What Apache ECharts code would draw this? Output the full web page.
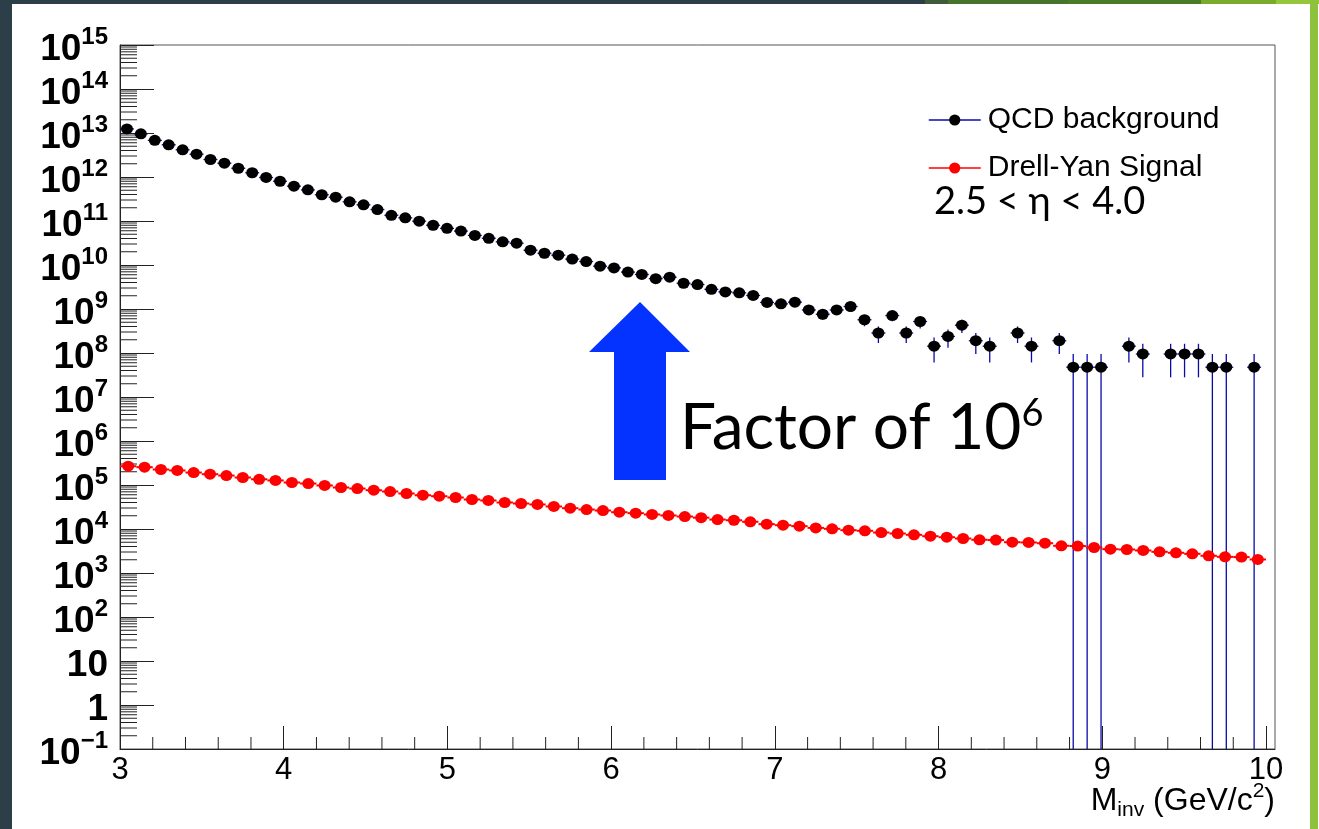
<!DOCTYPE html>
<html>
<head>
<meta charset="utf-8">
<script src="https://cdn.jsdelivr.net/npm/echarts@6/dist/echarts.min.js"></script>
<style>
  html, body { margin: 0; padding: 0; background: #fff; }
  #container { width: 1319px; height: 829px; }
</style>
</head>
<body>
<div id="container"></div>
<script>
// QCD background histogram (bin centres, contents, errors); null = empty bin
var qcdMass = [
  3.0425, 3.1275, 3.2125, 3.2975, 3.3825, 3.4675, 3.5525, 3.6375, 3.7225, 3.8075,
  3.8925, 3.9775, 4.0625, 4.1475, 4.2325, 4.3175, 4.4025, 4.4875, 4.5725, 4.6575,
  4.7425, 4.8275, 4.9125, 4.9975, 5.0825, 5.1675, 5.2525, 5.3375, 5.4225, 5.5075,
  5.5925, 5.6775, 5.7625, 5.8475, 5.9325, 6.0175, 6.1025, 6.1875, 6.2725, 6.3575,
  6.4425, 6.5275, 6.6125, 6.6975, 6.7825, 6.8675, 6.9525, 7.0375, 7.1225, 7.2075,
  7.2925, 7.3775, 7.4625, 7.5475, 7.6325, 7.7175, 7.8025, 7.8875, 7.9725, 8.0575,
  8.1425, 8.2275, 8.3125, 8.3975, 8.4825, 8.5675, 8.6525, 8.7375, 8.8225, 8.9075,
  8.9925, 9.0775, 9.1625, 9.2475, 9.3325, 9.4175, 9.5025, 9.5875, 9.6725, 9.7575,
  9.8425, 9.9275
];
var qcdCounts = [
  1.24e13, 9.6e12, 6.8e12, 5.4e12, 4.15e12, 3.3e12, 2.5e12, 2.06e12, 1.58e12, 1.25e12,
  9.75e11, 8.0e11, 6.2e11, 5.1e11, 3.95e11, 3.47e11, 2.73e11, 2.33e11, 1.82e11, 1.35e11,
  1.18e11, 9.9e10, 8.0e10, 6.8e10, 5.9e10, 4.7e10, 4.05e10, 3.37e10, 3.13e10, 2.17e10,
  1.85e10, 1.67e10, 1.36e10, 1.2e10, 9.4e9, 8.6e9, 6.9e9, 6.1e9, 4.9e9, 5.3e9,
  3.85e9, 3.6e9, 2.8e9, 2.45e9, 2.33e9, 2.03e9, 1.41e9, 1.31e9, 1.43e9, 9.5e8,
  7.6e8, 9.5e8, 1.14e9, 5.7e8, 2.85e8, 7.1e8, 2.85e8, 5.2e8, 1.43e8, 2.38e8,
  4.28e8, 1.9e8, 1.43e8, null, 2.85e8, 1.43e8, null, 1.9e8, 4.75e7, 4.75e7,
  4.75e7, null, 1.43e8, 9.5e7, null, 9.5e7, 9.5e7, 9.5e7, 4.75e7, 4.75e7,
  null, 4.75e7
];
var qcdErrors = [
  0, 0, 0, 0, 0, 0, 0, 0, 0, 0,
  0, 0, 0, 0, 0, 0, 0, 0, 0, 0,
  0, 0, 0, 0, 0, 0, 0, 0, 0, 0,
  0, 0, 0, 0, 0, 0, 0, 0, 0, 0,
  4.3e8, 4.1e8, 3.65e8, 3.4e8, 3.3e8, 3.1e8, 2.6e8, 2.5e8, 2.6e8, 2.12e8,
  1.9e8, 2.12e8, 2.33e8, 1.65e8, 1.16e8, 1.84e8, 1.16e8, 1.58e8, 8.2e7, 1.06e8,
  1.43e8, 9.5e7, 8.2e7, null, 1.16e8, 8.2e7, null, 9.5e7, 4.75e7, 4.75e7,
  4.75e7, null, 8.2e7, 6.7e7, null, 6.7e7, 6.7e7, 6.7e7, 4.75e7, 4.75e7,
  null, 4.75e7
];
var qcdHalfWidth = 0.0425;

// Drell-Yan signal histogram
var dyMass = [
  3.05, 3.15, 3.25, 3.35, 3.45, 3.55, 3.65, 3.75, 3.85, 3.95,
  4.05, 4.15, 4.25, 4.35, 4.45, 4.55, 4.65, 4.75, 4.85, 4.95,
  5.05, 5.15, 5.25, 5.35, 5.45, 5.55, 5.65, 5.75, 5.85, 5.95,
  6.05, 6.15, 6.25, 6.35, 6.45, 6.55, 6.65, 6.75, 6.85, 6.95,
  7.05, 7.15, 7.25, 7.35, 7.45, 7.55, 7.65, 7.75, 7.85, 7.95,
  8.05, 8.15, 8.25, 8.35, 8.45, 8.55, 8.65, 8.75, 8.85, 8.95,
  9.05, 9.15, 9.25, 9.35, 9.45, 9.55, 9.65, 9.75, 9.85, 9.95
];
var dyCounts = [
  2.67e5, 2.54e5, 2.25e5, 2.14e5, 1.92e5, 1.76e5, 1.64e5, 1.48e5, 1.35e5, 1.27e5,
  1.14e5, 1.08e5, 9.75e4, 8.77e4, 8.32e4, 7.62e4, 7.11e4, 6.41e4, 5.86e4, 5.56e4,
  5.2e4, 4.68e4, 4.45e4, 4.0e4, 3.8e4, 3.61e4, 3.25e4, 2.97e4, 2.77e4, 2.63e4,
  2.41e4, 2.29e4, 2.14e4, 2.03e4, 1.92e4, 1.81e4, 1.64e4, 1.58e4, 1.46e4, 1.29e4,
  1.22e4, 1.16e4, 1.06e4, 1.01e4, 9.4e3, 9.1e3, 8.32e3, 7.9e3, 7.38e3, 6.86e3,
  6.51e3, 6.08e3, 5.69e3, 5.6e3, 5.01e3, 4.95e3, 4.75e3, 4.15e3, 4.1e3, 3.8e3,
  3.48e3, 3.42e3, 3.25e3, 3.03e3, 2.88e3, 2.73e3, 2.46e3, 2.33e3, 2.3e3, 2.03e3
];
var dyHalfWidth = 0.05;

// axis ticks
var xTicks = [3, 4, 5, 6, 7, 8, 9, 10];
var yTicks = [0.1, 1, 10, 1e2, 1e3, 1e4, 1e5, 1e6, 1e7, 1e8, 1e9, 1e10, 1e11, 1e12, 1e13, 1e14, 1e15];
var xMin = 3, xMax = 10.055, yMin = 0.1, yMax = 1e15;

// the top decade sits exactly on the axis end; nudge it inside so it is not dropped
var yTickValues = yTicks.map(function (v) { return v === yMax ? v * 0.99999 : v; });

var qcdPoints = [], qcdBars = [];
for (var i = 0; i < qcdMass.length; i++) {
    if (qcdCounts[i] == null) continue;
    qcdPoints.push([qcdMass[i], qcdCounts[i]]);
    qcdBars.push([qcdMass[i], qcdCounts[i], qcdErrors[i], qcdHalfWidth]);
}
var dyPoints = [], dyBars = [];
for (var j = 0; j < dyMass.length; j++) {
    dyPoints.push([dyMass[j], dyCounts[j]]);
    dyBars.push([dyMass[j], dyCounts[j], 0, dyHalfWidth]);
}

// minor ticks, ROOT style (x every 0.2, y at 2..9 x 10^n)
var minorTicks = [];
for (var t = 3.2; t < 10.01; t += 0.2) {
    var tv = Math.round(t * 10) / 10;
    if (Math.abs(tv - Math.round(tv)) > 0.01) minorTicks.push([tv, yMin, 12, 0]);
}
for (var n = -1; n < 15; n++) {
    for (var k = 2; k <= 9; k++) minorTicks.push([xMin, k * Math.pow(10, n), 17, 1]);
}

function errorBars(color, width) {
    return function (params, api) {
        var x = api.value(0), v = api.value(1), e = api.value(2), hw = api.value(3);
        var c = api.coord([x, v]);
        var l = api.coord([x - hw, v]);
        var r = api.coord([x + hw, v]);
        var kids = [{
            type: 'line',
            shape: { x1: l[0], y1: c[1], x2: r[0], y2: c[1] },
            style: { stroke: color, lineWidth: width }
        }];
        if (e > 0) {
            var top = api.coord([x, v + e]);
            var bot = api.coord([x, Math.max(v - e, yMin)]);
            kids.push({
                type: 'line',
                shape: { x1: c[0], y1: top[1], x2: c[0], y2: bot[1] },
                style: { stroke: color, lineWidth: width }
            });
        }
        return { type: 'group', children: kids };
    };
}

function tickItem(params, api) {
    var p = api.coord([api.value(0), api.value(1)]);
    var len = api.value(2);
    var shape = api.value(3) === 0
        ? { x1: p[0], y1: p[1], x2: p[0], y2: p[1] - len }
        : { x1: p[0], y1: p[1], x2: p[0] + len, y2: p[1] };
    return { type: 'line', shape: shape, style: { stroke: '#222', lineWidth: 1 } };
}

function yLabel(v) {
    var e = Math.round(Math.log(v) / Math.LN10);
    if (e === 0) return '{b|1}';
    if (e === 1) return '{b|10}';
    return '{b|10}{s|' + (e < 0 ? '\u2212' + (-e) : e) + '}';
}

var root = 'Liberation Sans';
var myChart = echarts.init(document.getElementById('container'));

var option = {
    backgroundColor: '#fff',
    animation: false,
    grid: {
        left: 120, right: 44, top: 45, bottom: 80,
        outerBoundsMode: 'none',
        show: true, borderColor: '#555', borderWidth: 1, backgroundColor: '#fff'
    },
    legend: {
        orient: 'vertical',
        left: 923, top: 100,
        itemWidth: 52, itemHeight: 14, itemGap: 18,
        textStyle: { fontFamily: root, fontSize: 30, color: '#000', padding: [0, 0, 0, 2] },
        data: [
            { name: 'QCD background', lineStyle: { color: '#0a0aa8', width: 1.5, opacity: 1 } },
            { name: 'Drell-Yan Signal', lineStyle: { color: '#ff0000', width: 1.5, opacity: 1 } }
        ]
    },
    xAxis: {
        type: 'value', min: xMin, max: xMax,
        splitLine: { show: false },
        axisLine: { lineStyle: { color: '#222', width: 1 } },
        axisTick: { inside: true, length: 23, customValues: xTicks, lineStyle: { color: '#222' } },
        axisLabel: {
            customValues: xTicks, margin: 6,
            fontFamily: root, fontSize: 31, color: '#000'
        }
    },
    yAxis: {
        type: 'log', logBase: 10, min: yMin, max: yMax,
        splitLine: { show: false },
        axisLine: { show: true, lineStyle: { color: '#222', width: 1 } },
        axisTick: { show: true, inside: true, length: 34, customValues: yTickValues, lineStyle: { color: '#222' } },
        axisLabel: {
            customValues: yTickValues, margin: 12, padding: [9, 0, 0, 0],
            showMinLabel: true, showMaxLabel: true, hideOverlap: false,
            formatter: yLabel,
            rich: {
                b: { fontFamily: root, fontSize: 37, fontWeight: 'bold', lineHeight: 48, color: '#000' },
                s: { fontFamily: root, fontSize: 24, fontWeight: 'bold', lineHeight: 24, verticalAlign: 'top', color: '#000' }
            }
        }
    },
    series: [
        {
            type: 'custom', name: 'ticks', silent: true, clip: false,
            renderItem: tickItem, data: minorTicks, z: 1
        },
        {
            type: 'custom', name: 'qcd errors', silent: true, clip: true,
            renderItem: errorBars('#0a0aa8', 1.3), data: qcdBars, z: 2
        },
        {
            type: 'custom', name: 'dy errors', silent: true, clip: true,
            renderItem: errorBars('#ff0000', 2), data: dyBars, z: 2
        },
        {
            type: 'line', name: 'QCD background', data: qcdPoints,
            symbol: 'circle', symbolSize: [12, 11], showSymbol: true,
            itemStyle: { color: '#000' }, lineStyle: { opacity: 0 }, z: 3
        },
        {
            type: 'line', name: 'Drell-Yan Signal', data: dyPoints,
            symbol: 'circle', symbolSize: [12, 11], showSymbol: true,
            itemStyle: { color: '#ff0000' }, lineStyle: { opacity: 0 }, z: 3
        }
    ],
    graphic: [
        // slide frame
        { type: 'rect', shape: { x: 0, y: 0, width: 12, height: 829 }, style: { fill: '#2c3e48' }, z: 10 },
        { type: 'rect', shape: { x: 0, y: 0, width: 925, height: 4 }, style: { fill: '#2c3e48' }, z: 10 },
        { type: 'rect', shape: { x: 925, y: 0, width: 23, height: 4 }, style: { fill: '#3e5c3a' }, z: 10 },
        { type: 'rect', shape: { x: 948, y: 0, width: 120, height: 4 }, style: { fill: '#45742a' }, z: 10 },
        { type: 'rect', shape: { x: 1068, y: 0, width: 133, height: 4 }, style: { fill: '#4a7c27' }, z: 10 },
        { type: 'rect', shape: { x: 1201, y: 0, width: 75, height: 4 }, style: { fill: '#7aab2c' }, z: 10 },
        { type: 'rect', shape: { x: 1276, y: 0, width: 43, height: 4 }, style: { fill: '#95c63c' }, z: 10 },
        { type: 'rect', shape: { x: 1310, y: 0, width: 8, height: 829 }, style: { fill: '#8cc23c' }, z: 10 },
        // x axis title
        {
            type: 'text', z: 10, x: 1275, y: 781,
            style: {
                text: '{n|M}{sub|inv}{n| (GeV/c}{sup|2}{n|)}', align: 'right', verticalAlign: 'top',
                rich: {
                    n: { fontFamily: root, fontSize: 32, lineHeight: 40, fill: '#000' },
                    sub: { fontFamily: root, fontSize: 21, lineHeight: 20, verticalAlign: 'bottom', fill: '#000' },
                    sup: { fontFamily: root, fontSize: 21, lineHeight: 20, verticalAlign: 'top', fill: '#000' }
                }
            }
        },
        // annotation arrow
        {
            type: 'polygon', z: 10,
            shape: { points: [[640, 302], [690, 352], [666, 352], [666, 480], [614, 480], [614, 352], [589, 352]] },
            style: { fill: '#0433ff' }
        },
        {
            type: 'text', z: 10, x: 680, y: 395,
            style: {
                text: '{a|Factor of 10}{s|6}', align: 'left', verticalAlign: 'top',
                rich: {
                    a: { fontFamily: 'Lato', fontSize: 64, lineHeight: 66, fill: '#000' },
                    s: { fontFamily: 'Lato', fontSize: 38, lineHeight: 38, verticalAlign: 'top', fill: '#000' }
                }
            }
        },
        {
            type: 'text', z: 10, x: 934, y: 180,
            style: {
                text: '{t|2.5 < \u03b7 < 4.0}', align: 'left', verticalAlign: 'top',
                rich: { t: { fontFamily: 'Lato', fontSize: 38, lineHeight: 44, fill: '#000' } }
            }
        }
    ]
};

myChart.setOption(option, true);
window.onresize = function () {
    myChart.resize();
};
</script>
</body>
</html>
